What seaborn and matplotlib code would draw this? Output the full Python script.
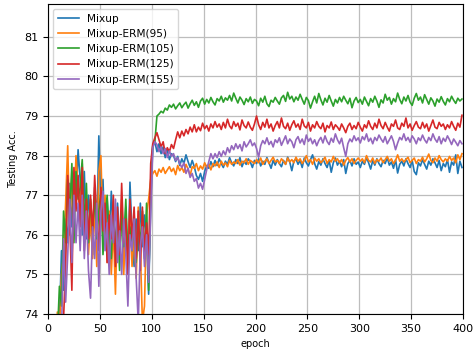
import numpy as np
import pandas as pd
import matplotlib
matplotlib.use("Agg")
import matplotlib.pyplot as plt
import seaborn as sns

# test accuracy recorded every other epoch (epochs 1, 3, ..., 399)
epochs = list(range(1, 400, 2))

mixup = [
    60, 66, 70, 72, 73.2, 73.8, 75.6, 74.6, 76.4, 75.8,
    77.3, 76.2, 77.5, 76.8, 78.15, 77.4, 76.0, 77.6, 75.9, 77.0,
    76.3, 75.5, 77.2, 76.0, 78.5, 76.6, 77.4, 75.8, 76.9, 75.6,
    77.1, 76.2, 75.4, 76.8, 75.9, 76.5, 75.3, 76.7, 75.1, 77.33,
    76.0, 75.2, 76.4, 75.6, 76.8, 75.7, 76.5, 75.9, 74.5, 76.8,
    78.25, 78.35, 78.10, 78.30, 78.05, 78.22, 77.95, 78.15, 77.90, 78.05,
    78.00, 77.85, 77.98, 77.75, 77.92, 77.80, 78.02, 77.85, 77.70, 77.88,
    77.72, 77.50, 77.40, 77.55, 77.35, 77.60, 77.75, 77.68, 77.85, 77.72,
    77.88, 77.75, 77.92, 77.80, 77.70, 77.86, 77.78, 77.95, 77.82, 77.74,
    77.90, 77.80, 77.95, 77.72, 77.86, 77.78, 77.92, 77.84, 77.70, 77.88,
    77.80, 77.92, 77.74, 77.86, 77.78, 77.95, 77.82, 77.68, 77.88, 77.76,
    77.90, 77.80, 77.72, 77.88, 77.78, 77.96, 77.84, 77.62, 77.86, 77.92,
    77.78, 77.88, 77.70, 77.94, 77.82, 77.74, 77.90, 78.02, 77.80, 77.66,
    77.85, 77.76, 77.92, 77.80, 77.70, 77.88, 77.58, 77.82, 77.94, 77.76,
    77.86, 77.72, 77.90, 77.55, 77.80, 77.88, 77.74, 77.92, 77.78, 77.84,
    77.70, 77.86, 77.78, 77.95, 77.82, 77.66, 77.88, 77.76, 77.92, 77.80,
    77.72, 77.88, 77.80, 77.95, 77.76, 77.84, 77.68, 77.90, 77.56, 77.78,
    77.86, 77.74, 77.92, 77.80, 77.70, 77.88, 77.60, 77.52, 77.82, 77.74,
    77.90, 77.78, 77.66, 77.86, 77.76, 77.92, 77.82, 77.70, 77.88, 77.62,
    77.80, 77.72, 77.90, 77.58, 77.84, 77.76, 78.02, 77.55, 77.86, 77.70,
]

erm95 = [
    58, 64, 69, 72.5, 74.05, 73.6, 75.0, 75.5, 76.8, 78.25,
    76.0, 77.6, 76.5, 78.0, 77.2, 76.4, 77.8, 75.8, 77.0, 75.5,
    76.5, 75.4, 76.8, 75.2, 77.6, 78.0, 76.0, 77.0, 75.3, 76.6,
    75.0, 76.2, 74.5, 76.5, 75.6, 76.9, 75.0, 76.3, 75.5, 76.8,
    75.2, 76.0, 74.9, 76.7, 75.6, 73.8, 74.2, 76.5, 76.9, 77.4,
    77.55, 77.62, 77.48, 77.66, 77.58, 77.70, 77.55, 77.64, 77.72, 77.60,
    77.68, 77.52, 77.75, 77.62, 77.70, 77.58, 77.78, 77.66, 77.50, 77.72,
    77.68, 77.80, 77.62, 77.74, 77.66, 77.82, 77.70, 77.78, 77.64, 77.80,
    77.74, 77.84, 77.70, 77.86, 77.76, 77.82, 77.72, 77.88, 77.78, 77.84,
    77.80, 77.90, 77.76, 77.86, 77.82, 77.92, 77.78, 77.88, 77.84, 77.80,
    77.90, 77.82, 77.94, 77.78, 77.86, 77.92, 77.80, 77.88, 77.96, 77.84,
    77.88, 77.80, 77.92, 77.86, 77.78, 77.94, 77.84, 77.90, 77.82, 77.96,
    77.86, 77.92, 77.80, 77.88, 78.00, 77.84, 77.90, 77.78, 77.94, 77.86,
    77.92, 77.82, 77.88, 77.96, 77.80, 77.90, 77.84, 77.98, 77.86, 77.92,
    77.82, 77.90, 77.76, 77.88, 77.95, 77.84, 77.92, 77.80, 77.88, 77.94,
    77.86, 77.92, 77.82, 78.00, 77.88, 77.84, 77.94, 77.80, 77.90, 77.86,
    77.94, 77.82, 77.90, 77.98, 77.86, 77.92, 77.80, 77.88, 78.02, 77.86,
    77.92, 77.84, 77.90, 77.96, 77.82, 77.88, 77.94, 77.80, 77.90, 77.86,
    77.96, 77.84, 77.92, 78.04, 77.88, 77.82, 77.94, 77.86, 78.00, 77.90,
    77.84, 77.92, 77.86, 77.98, 77.88, 77.94, 77.82, 78.02, 77.90, 78.05,
]

erm105 = [
    59, 65, 69.5, 72.2, 73.4, 74.7, 74.2, 76.6, 75.8, 77.4,
    76.5, 77.8, 75.8, 77.6, 76.9, 77.2, 77.9, 76.2, 77.3, 75.8,
    76.9, 76.1, 77.0, 75.9, 76.6, 77.1, 75.5, 76.4, 77.0, 76.0,
    75.4, 76.7, 75.8, 76.3, 75.1, 76.6, 75.7, 76.9, 75.4, 76.2,
    75.6, 76.5, 75.3, 76.3, 75.8, 76.6, 75.4, 76.8, 74.6, 77.3,
    78.25, 78.35, 79.00, 79.05, 79.12, 79.08, 79.20, 79.15, 79.28, 79.22,
    79.30, 79.18, 79.26, 79.33, 79.21, 79.29, 79.35, 79.20, 79.31, 79.40,
    79.27, 79.36, 79.22, 79.38, 79.45, 79.30, 79.42, 79.33, 79.47, 79.36,
    79.28, 79.44, 79.38, 79.50, 79.35, 79.46, 79.40, 79.52, 79.38, 79.58,
    79.45, 79.33, 79.48, 79.40, 79.29, 79.44, 79.36, 79.48, 79.32, 79.42,
    79.38, 79.26, 79.45, 79.35, 79.50, 79.31, 79.24, 79.40, 79.35, 79.47,
    79.38, 79.30, 79.46, 79.52, 79.37, 79.60, 79.43, 79.50, 79.36, 79.48,
    79.40, 79.55, 79.42, 79.30, 79.47, 79.39, 79.20, 79.36, 79.50, 79.33,
    79.57, 79.41, 79.28, 79.45, 79.35, 79.52, 79.38, 79.25, 79.42, 79.33,
    79.47, 79.36, 79.50, 79.40, 79.31, 79.45, 79.21, 79.38, 79.47, 79.34,
    79.42, 79.30, 79.48, 79.37, 79.26, 79.44, 79.35, 79.50, 79.38, 79.22,
    79.41, 79.33, 79.55, 79.40, 79.47, 79.30, 79.44, 79.36, 79.58, 79.42,
    79.31, 79.48, 79.38, 79.52, 79.35, 79.27, 79.45, 79.57, 79.40, 79.48,
    79.33, 79.54, 79.42, 79.30, 79.46, 79.38, 79.25, 79.43, 79.35, 79.49,
    79.37, 79.28, 79.44, 79.36, 79.50, 79.40, 79.32, 79.45, 79.38, 79.43,
]

erm125 = [
    57, 63, 68, 71, 72.5, 73.2, 73.6, 73.9, 75.2, 77.5,
    76.3, 74.6, 77.7, 76.6, 77.5, 76.2, 77.7, 75.6, 76.9, 75.9,
    77.0, 76.0, 77.5, 76.4, 75.6, 77.2, 76.1, 76.8, 75.3, 76.5,
    75.9, 77.0, 75.2, 76.7, 75.5, 77.3, 75.8, 76.4, 75.0, 76.9,
    75.9, 76.7, 75.4, 76.6, 75.1, 76.7, 75.6, 76.3, 75.5, 77.8,
    78.30, 78.45, 78.58, 78.40, 78.22, 78.35, 78.05, 78.20, 78.10, 78.28,
    78.18, 78.40, 78.60, 78.45, 78.62, 78.50, 78.66, 78.55, 78.72, 78.60,
    78.78, 78.60, 78.72, 78.63, 78.82, 78.68, 78.76, 78.62, 78.80, 78.70,
    78.86, 78.72, 78.80, 78.66, 78.84, 78.70, 78.92, 78.75, 78.68, 78.86,
    78.74, 78.82, 78.65, 78.90, 78.76, 78.70, 78.85, 78.72, 78.64, 78.80,
    79.00, 78.78, 78.66, 78.84, 78.72, 78.92, 78.70, 78.80, 78.62, 78.76,
    78.86, 78.70, 78.95, 78.74, 78.68, 78.82, 78.64, 78.78, 78.88, 78.72,
    78.80, 78.66, 78.92, 78.75, 78.70, 78.84, 78.62, 78.78, 78.70, 78.86,
    78.74, 78.68, 78.82, 78.60, 78.76, 78.70, 78.85, 78.66, 78.78, 78.72,
    78.64, 78.80, 78.70, 78.58, 78.74, 78.82, 78.66, 78.76, 78.68, 78.84,
    78.72, 78.62, 78.78, 78.70, 78.88, 78.74, 78.66, 78.82, 78.70, 78.92,
    78.76, 78.68, 78.84, 78.72, 78.62, 78.80, 78.74, 78.90, 78.70, 78.66,
    78.82, 78.74, 78.95, 78.70, 78.80, 78.64, 78.76, 78.86, 78.72, 78.68,
    78.84, 78.70, 78.80, 78.62, 78.76, 78.90, 78.72, 78.68, 78.84, 78.74,
    78.80, 78.66, 78.78, 78.70, 78.86, 78.74, 78.64, 78.82, 78.72, 79.02,
]

erm155 = [
    56, 62, 67, 70.5, 72.3, 73.0, 73.5, 75.9, 74.3, 75.5,
    76.9, 75.3, 77.0, 75.8, 76.8, 75.6, 77.0, 75.4, 76.6, 75.1,
    74.4, 76.2, 75.4, 76.8, 74.7, 76.6, 77.1, 75.6, 76.3, 75.0,
    76.5, 75.8, 76.9, 75.3, 76.1, 75.0, 76.4, 75.5, 74.2, 76.0,
    75.6, 76.4, 74.9, 73.8, 75.7, 76.2, 75.2, 76.0, 74.8, 76.5,
    78.20, 78.35, 78.28, 78.10, 78.22, 78.05, 78.18, 77.95, 78.12, 77.98,
    78.05, 77.88, 77.95, 77.80, 77.70, 77.82, 77.55, 77.68, 77.45, 77.55,
    77.35, 77.42, 77.18, 77.30, 77.15, 77.40, 77.65, 77.85, 78.05, 77.92,
    78.05, 77.95, 78.10, 77.98, 78.12, 78.02, 78.20, 78.08, 78.25, 78.15,
    78.30, 78.18, 78.28, 78.12, 78.35, 78.22, 78.30, 78.40, 78.25, 78.32,
    78.18, 77.96, 78.25, 78.38, 78.30, 78.45, 78.28, 78.36, 78.22, 78.40,
    78.33, 78.45, 78.26, 78.38, 78.50, 78.30, 78.42, 78.35, 78.20, 78.40,
    78.48, 78.32, 78.42, 78.28, 78.52, 78.36, 78.44, 78.30, 78.40, 78.25,
    78.38, 78.46, 78.32, 78.50, 78.36, 78.28, 78.44, 78.34, 78.55, 78.40,
    78.30, 78.44, 78.20, 77.98, 78.30, 78.42, 78.35, 78.50, 78.38, 78.45,
    78.32, 78.48, 78.40, 78.55, 78.36, 78.44, 78.30, 78.46, 78.38, 78.52,
    78.42, 78.34, 78.48, 78.30, 78.40, 78.50, 78.36, 78.15, 78.32, 78.46,
    78.40, 78.55, 78.38, 78.46, 78.34, 78.50, 78.42, 78.30, 78.45, 78.38,
    78.52, 78.40, 78.32, 78.46, 78.38, 78.55, 78.42, 78.34, 78.48, 78.30,
    78.44, 78.36, 78.50, 78.40, 78.28, 78.42, 78.34, 78.25, 78.38, 78.30,
]

labels = ["Mixup", "Mixup-ERM(95)", "Mixup-ERM(105)", "Mixup-ERM(125)", "Mixup-ERM(155)"]
series = [mixup, erm95, erm105, erm125, erm155]
colors = ["#1f77b4", "#ff7f0e", "#2ca02c", "#d62728", "#9467bd"]
x_ticks = [0, 50, 100, 150, 200, 250, 300, 350, 400]
y_ticks = [74, 75, 76, 77, 78, 79, 80, 81]

df = pd.concat(
    [pd.DataFrame({"epoch": epochs, "acc": vals, "method": name})
     for name, vals in zip(labels, series)],
    ignore_index=True,
)

plt.rcParams["font.family"] = ["DejaVu Sans"]

fig = plt.figure(figsize=(4.73, 3.53), dpi=100)
ax = fig.add_axes([48 / 473, 1 - 314 / 353, 415 / 473, 310 / 353])

sns.lineplot(
    data=df, x="epoch", y="acc", hue="method", hue_order=labels,
    palette=colors, estimator=None, linewidth=1.2, ax=ax,
)

ax.set_xlim(0, 400)
ax.set_ylim(74, 81.83)
ax.set_xticks(x_ticks)
ax.set_yticks(y_ticks)
ax.tick_params(labelsize=8)
ax.grid(True, color="#bdbdbd", linewidth=0.9)
ax.set_axisbelow(True)
ax.set_xlabel("epoch", fontsize=7)
ax.set_ylabel("Testing Acc.", fontsize=7)
for s in ax.spines.values():
    s.set_color("black")

ax.legend(loc="upper left", fontsize=7.6, framealpha=0.8)

fig.savefig("out.png", dpi=100)
